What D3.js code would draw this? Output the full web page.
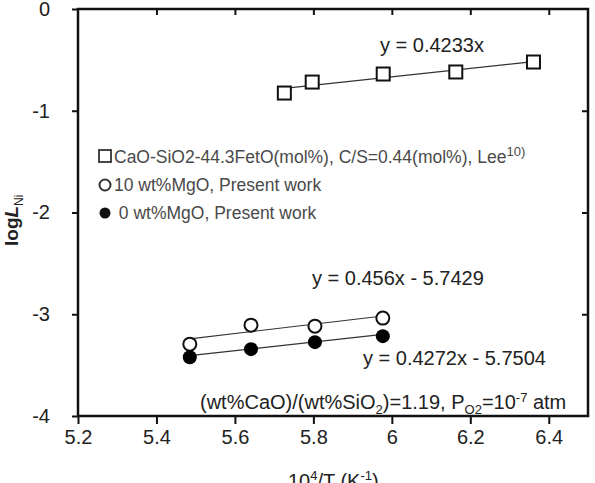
<!DOCTYPE html>
<html>
<head>
<meta charset="utf-8">
<script src="https://cdn.jsdelivr.net/npm/d3@7"></script>
<style>
  body { margin: 0; background: #fff; }
  svg { display: block; font-family: "Liberation Sans", Arial, sans-serif; }
  .tick text { font-size: 20px; fill: #222; }
</style>
</head>
<body>
<svg width="595" height="483"></svg>
<script>
// data
const leeX = [5.726, 5.797, 5.978, 6.163, 6.361];
const leeY = [-0.826, -0.718, -0.639, -0.619, -0.521];
const presentX = [5.485, 5.641, 5.804, 5.977];
const mgo10Y = [-3.294, -3.107, -3.117, -3.038];
const mgo0Y = [-3.422, -3.343, -3.274, -3.215];
const fit10 = [0.456, -5.7429];
const fit0 = [0.4272, -5.7504];
const xTicks = [5.2, 5.4, 5.6, 5.8, 6.0, 6.2, 6.4];
const yTicks = [0, -1, -2, -3, -4];
const legendLabels = ['CaO-SiO2-44.3FetO(mol%), C/S=0.44(mol%), Lee', '10 wt%MgO, Present work', ' 0 wt%MgO, Present work'];

const svg = d3.select('svg');
const x = d3.scaleLinear().domain([5.2, 6.5]).range([78, 588]);
const y = d3.scaleLinear().domain([-4, 0]).range([416, 9]);
const fmt = d => d3.format('')(+d.toFixed(1));

// axes
svg.append('g').attr('transform', 'translate(0,416)')
  .call(d3.axisBottom(x).tickValues(xTicks).tickSize(8).tickPadding(6).tickFormat(fmt))
  .call(g => g.select('.domain').remove());
svg.append('g').attr('transform', 'translate(78,0)')
  .call(d3.axisLeft(y).tickValues(yTicks).tickSize(6).tickPadding(22).tickFormat(d => d))
  .call(g => g.select('.domain').remove());
svg.append('g').attr('transform', 'translate(0,9)')
  .call(d3.axisTop(x).tickValues(xTicks.slice(1)).tickSize(-6).tickFormat(''))
  .call(g => g.select('.domain').remove());
svg.append('g').attr('transform', 'translate(588,0)')
  .call(d3.axisRight(y).tickValues([-1, -2, -3]).tickSize(-6).tickFormat(''))
  .call(g => g.select('.domain').remove());
svg.selectAll('.tick line').attr('stroke', '#111').attr('stroke-width', 2);

svg.append('rect')
  .attr('x', x(5.2)).attr('y', y(0))
  .attr('width', x(6.5) - x(5.2)).attr('height', y(-4) - y(0))
  .attr('fill', 'none').attr('stroke', '#111').attr('stroke-width', 2.5);

// fit lines
const lsq = (xs, ys) => {
  const mx = d3.mean(xs), my = d3.mean(ys);
  const b = d3.sum(xs, (v, i) => (v - mx) * (ys[i] - my)) / d3.sum(xs, v => (v - mx) ** 2);
  return [b, my - b * mx];
};
const drawFit = (coef, x0, x1) => svg.append('line')
  .attr('x1', x(x0)).attr('y1', y(coef[0] * x0 + coef[1]))
  .attr('x2', x(x1)).attr('y2', y(coef[0] * x1 + coef[1]))
  .attr('stroke', '#333').attr('stroke-width', 1.2);
drawFit(lsq(leeX, leeY), leeX[0], leeX[leeX.length - 1]);
drawFit(fit10, presentX[0], presentX[presentX.length - 1]);
drawFit(fit0, presentX[0], presentX[presentX.length - 1]);

// points
svg.append('g').selectAll('rect').data(leeX).join('rect')
  .attr('x', (d, i) => x(d) - 6.5).attr('y', (d, i) => y(leeY[i]) - 6.5)
  .attr('width', 13).attr('height', 13)
  .attr('fill', '#fff').attr('stroke', '#111').attr('stroke-width', 2);
svg.append('g').selectAll('circle').data(presentX).join('circle')
  .attr('cx', d => x(d)).attr('cy', (d, i) => y(mgo10Y[i])).attr('r', 6.5)
  .attr('fill', '#fff').attr('stroke', '#111').attr('stroke-width', 2);
svg.append('g').selectAll('circle').data(presentX).join('circle')
  .attr('cx', d => x(d)).attr('cy', (d, i) => y(mgo0Y[i])).attr('r', 7)
  .attr('fill', '#000');

// legend
const leg = svg.append('g').attr('font-size', 17.5).attr('fill', '#4a4a4a');
leg.append('rect').attr('x', 99).attr('y', 150).attr('width', 12).attr('height', 12)
  .attr('fill', '#fff').attr('stroke', '#333').attr('stroke-width', 1.8);
leg.append('circle').attr('cx', 105).attr('cy', 185).attr('r', 5.5)
  .attr('fill', '#fff').attr('stroke', '#333').attr('stroke-width', 2);
leg.append('circle').attr('cx', 105).attr('cy', 213).attr('r', 5.5).attr('fill', '#111');
const t1 = leg.append('text').attr('x', 114).attr('y', 163).text(legendLabels[0]);
t1.append('tspan').attr('dy', -7).attr('font-size', 13).text('10)');
leg.append('text').attr('x', 114).attr('y', 191).text(legendLabels[1]);
leg.append('text').attr('x', 114).attr('y', 219).attr('xml:space', 'preserve').text(legendLabels[2]);

// equations
const eq = svg.append('g').attr('font-size', 20).attr('fill', '#222');
eq.append('text').attr('x', 380).attr('y', 52).text('y = 0.4233x');
eq.append('text').attr('x', 312).attr('y', 285).text('y = 0.456x - 5.7429');
eq.append('text').attr('x', 363).attr('y', 365).text('y = 0.4272x - 5.7504');

const cond = eq.append('text').attr('x', 200).attr('y', 409);
cond.append('tspan').text('(wt%CaO)/(wt%SiO');
cond.append('tspan').attr('dy', 5).attr('font-size', 13).text('2');
cond.append('tspan').attr('dy', -5).text(')=1.19, P');
cond.append('tspan').attr('dy', 5).attr('font-size', 13).text('O2');
cond.append('tspan').attr('dy', -5).text('=10');
cond.append('tspan').attr('dy', -7).attr('font-size', 13).text('-7');
cond.append('tspan').attr('dy', 7).text(' atm');

// axis titles
const xt = svg.append('text').attr('x', 288).attr('y', 488).attr('font-size', 20).attr('fill', '#222');
xt.append('tspan').text('10');
xt.append('tspan').attr('dy', -8).attr('font-size', 13).text('4');
xt.append('tspan').attr('dy', 8).text('/T (K');
xt.append('tspan').attr('dy', -8).attr('font-size', 13).text('-1');
xt.append('tspan').attr('dy', 8).text(')');

const yt = svg.append('text').attr('transform', 'translate(18,246) rotate(-90)')
  .attr('font-size', 19).attr('font-weight', 'bold').attr('fill', '#222');
yt.append('tspan').text('log');
yt.append('tspan').attr('font-style', 'italic').text('L');
yt.append('tspan').attr('dy', 5).attr('font-size', 12).attr('font-weight', 'normal').text('Ni');
</script>
</body>
</html>
